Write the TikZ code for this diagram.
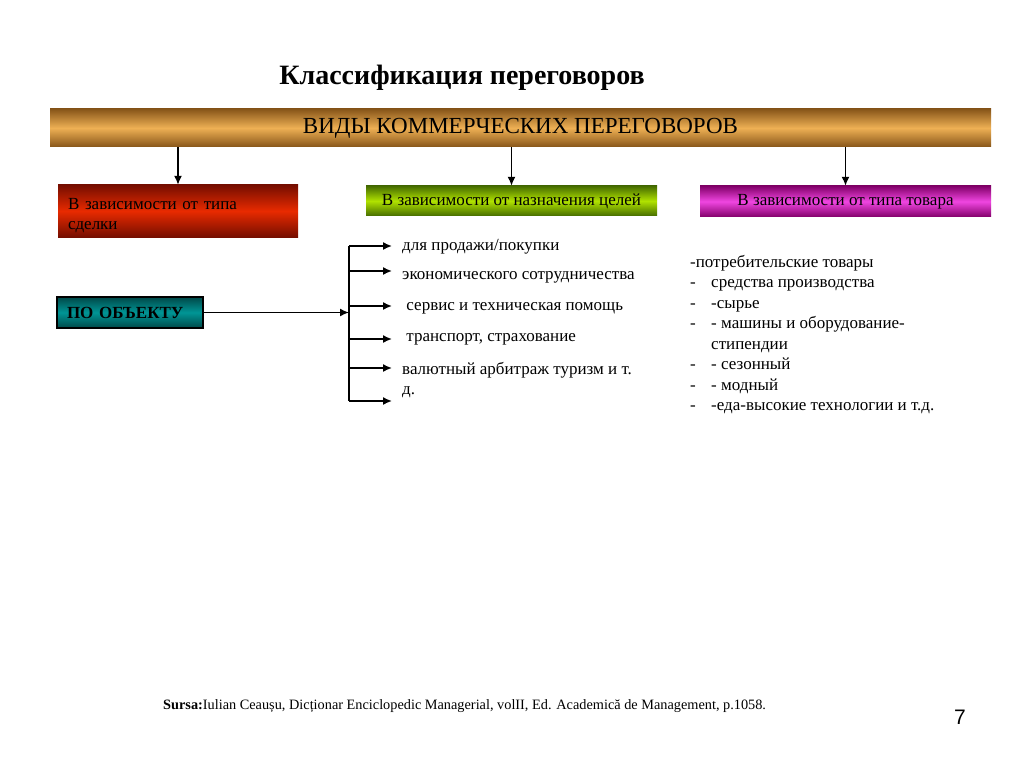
\documentclass[tikz,border=0pt]{standalone}
\usepackage{fontspec}
\setmainfont{Liberation Serif}
\setsansfont{Liberation Sans}
\usetikzlibrary{shapes,arrows,arrows.meta,positioning}
\definecolor{barDark}{RGB}{135,85,25}
\definecolor{barLight}{RGB}{238,176,84}
\definecolor{redDark}{RGB}{118,14,0}
\definecolor{redLight}{RGB}{232,42,0}
\definecolor{greenDark}{RGB}{70,108,0}
\definecolor{greenLight}{RGB}{176,226,0}
\definecolor{magDark}{RGB}{130,0,105}
\definecolor{magLight}{RGB}{240,70,225}
\definecolor{tealDark}{RGB}{0,72,72}
\definecolor{tealLight}{RGB}{0,150,150}
\tikzset{basic/.style={inner sep=0pt,font=\fontsize{17}{20.5}\selectfont}}
\tikzset{bar/.style={basic,minimum width=941pt,minimum height=38pt,top color=barDark,bottom color=barDark,middle color=barLight,font=\fontsize{23}{26}\selectfont}}
\tikzset{kind/.style={basic,minimum width=291pt,minimum height=30pt}}
\tikzset{item/.style={basic,anchor=west,inner xsep=10pt}}
\tikzset{arrow/.style={draw,line width=1.6pt,-{Latex[length=9pt,width=8pt]}}}

\begin{document}
\begin{tikzpicture}[x=1pt,y=-1pt]
    \useasboundingbox[fill=white] (0,0) rectangle (1024,767);
    \node[font=\fontsize{28}{32}\selectfont\bfseries] (title) at (462,78) {Классификация переговоров};
    \node[bar] (vidy) at (520.5,128) {ВИДЫ КОММЕРЧЕСКИХ ПЕРЕГОВОРОВ};

    \node[basic,minimum width=240pt,minimum height=52pt,text width=220pt,align=left,font=\fontsize{17}{20}\selectfont,top color=redDark,bottom color=redDark,middle color=redLight] (sdelka) at (178,211) {\rule{0pt}{21pt}В зависимости от типа\\сделки};
    \node[kind,top color=greenDark,bottom color=greenDark,middle color=greenLight] (celi) at (511.5,201) {В зависимости от назначения целей};
    \node[kind,minimum height=31pt,top color=magDark,bottom color=magDark,middle color=magLight] (tovar) at (845.5,201.5) {В зависимости от типа товара};
    \node[basic,draw,line width=1.2pt,minimum width=146pt,minimum height=31pt,text width=126pt,align=left,top color=tealDark,bottom color=tealDark,middle color=tealLight,font=\fontsize{17}{20}\selectfont\bfseries] (obekt) at (130,312.5) {ПО ОБЪЕКТУ};

     \coordinate (b1) at (349,246);
     \coordinate (b2) at (349,271);
     \coordinate (b3) at (349,306);
     \coordinate (b4) at (349,339);
     \coordinate (b5) at (349,368);
     \coordinate (b6) at (349,401);

     \node[item] (i1) at (392,247) {для продажи/покупки};
     \node[item] (i2) at (392,277) {экономического сотрудничества};
     \node[item] (i3) at (392,308) {\ сервис и техническая помощь};
     \node[item] (i4) at (392,339) {\ транспорт, страхование};
     \node[item,align=left,font=\fontsize{17}{20}\selectfont] (i5) at (392,380) {валютный арбитраж туризм и т.\\д.};

     \node[basic,anchor=north west,align=left] (spisok) at (690,255) {-потребительские товары\\
        \makebox[21pt][l]{-}средства производства\\
        \makebox[21pt][l]{-}-сырье\\
        \makebox[21pt][l]{-}- машины и оборудование-\\
        \makebox[21pt][l]{}стипендии\\
        \makebox[21pt][l]{-}- сезонный\\
        \makebox[21pt][l]{-}- модный\\
        \makebox[21pt][l]{-}-еда-высокие технологии и т.д.};

     \node[basic,anchor=west,font=\fontsize{14.3}{17}\selectfont] (sursa) at (163,706) {\textbf{Sursa:}Iulian Ceaușu, Dicționar Enciclopedic Managerial, volII, Ed. Academică de Management, p.1058.};
     \node[basic,font=\fontsize{21}{24}\selectfont\sffamily] (nomer) at (960,717) {7};

        \path[arrow] (vidy.south -| sdelka.north) -- (sdelka.north);
        \path[arrow] (vidy.south -| celi.north) -- (celi.north);
        \path[arrow] (vidy.south -| tovar.north) -- (tovar.north);
        \path[arrow] (obekt.east) -- (obekt.east -| b1);
        \draw[line width=1.6pt] (b1) -- (b6);
        \path[arrow] (b1) -- (b1 -| i1.west);
        \path[arrow] (b2) -- (b2 -| i2.west);
        \path[arrow] (b3) -- (b3 -| i3.west);
        \path[arrow] (b4) -- (b4 -| i4.west);
        \path[arrow] (b5) -- (b5 -| i5.west);
        \path[arrow] (b6) -- (b6 -| i5.west);
  \end{tikzpicture}
\end{document}
